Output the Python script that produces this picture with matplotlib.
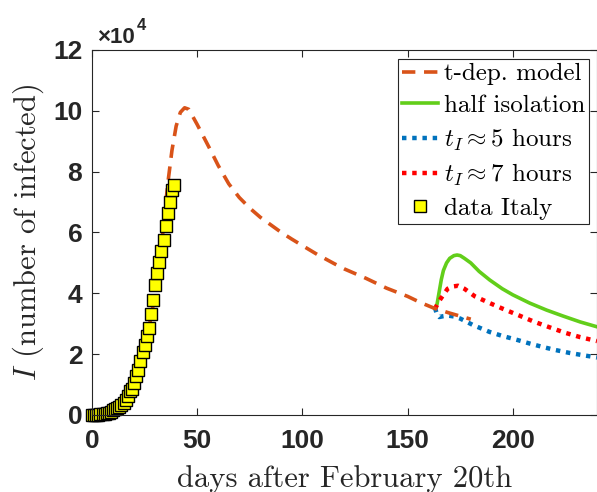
import matplotlib
matplotlib.use('Agg')
import matplotlib.pyplot as plt
import numpy as np
from matplotlib.ticker import FuncFormatter

# Italy active cases, days after Feb 20th
data_days = np.arange(0, 40)
data_cases = [3, 19, 76, 150, 221, 311, 400, 528, 821, 1049,
              1577, 1835, 2263, 2706, 3296, 3916, 5061, 6387, 7985, 8514,
              10590, 12839, 14955, 17750, 20603, 23073, 26062, 28710, 33190, 37860,
              42681, 46638, 50418, 54030, 57521, 62013, 66414, 70065, 73880, 75528]

# time-dependent model (values x1e4)
model_days = [0, 5, 10, 15, 20, 25, 28, 30, 32, 34, 36, 38, 40, 42, 44, 46, 48, 50,
              53, 56, 60, 65, 70, 75, 80, 85, 90, 95, 100, 107, 115, 120, 130, 140,
              150, 156, 163, 170, 180]
model_vals = [0.0, 0.03, 0.12, 0.38, 1.0, 2.2, 3.2, 4.0, 5.0, 6.2, 7.6, 8.7, 9.5, 9.95,
              10.1, 10.05, 9.8, 9.55, 9.15, 8.75, 8.2, 7.6, 7.15, 6.8, 6.5, 6.25, 6.0,
              5.78, 5.57, 5.28, 4.98, 4.8, 4.5, 4.17, 3.9, 3.7, 3.5, 3.35, 3.15]

half_days = [163, 164, 165, 166, 167, 168.5, 170, 172, 173.5, 175, 177, 180, 184, 189,
             195, 200, 208, 216, 224, 232, 240]
half_vals = [3.5, 3.65, 4.05, 4.45, 4.75, 5.0, 5.15, 5.24, 5.26, 5.24, 5.15, 5.0, 4.72,
             4.44, 4.15, 3.95, 3.68, 3.45, 3.25, 3.06, 2.9]

t5_days = [163, 164, 165, 167, 169, 172, 175, 181, 189, 195, 202, 208, 214, 220, 227,
           233, 240]
t5_vals = [3.52, 3.3, 3.22, 3.25, 3.27, 3.24, 3.17, 2.96, 2.73, 2.6, 2.47, 2.35, 2.24,
           2.14, 2.04, 1.97, 1.89]

t7_days = [163, 165, 167, 169, 171, 174, 177, 182, 189, 195, 202, 210, 218, 225, 232, 240]
t7_vals = [3.49, 3.75, 3.95, 4.15, 4.22, 4.25, 4.15, 3.9, 3.68, 3.5, 3.3, 3.07, 2.87,
           2.7, 2.56, 2.43]

plt.rcParams['mathtext.fontset'] = 'cm'
plt.rcParams['axes.unicode_minus'] = False

fig = plt.figure(figsize=(5.97, 4.92), dpi=100)
ax = fig.add_axes([92 / 597, 77 / 492, 505 / 597, 365 / 492])

scale = 1e4
l_half, = ax.plot(half_days, np.array(half_vals) * scale, color='#62CE1A', lw=2.6)
l_t5, = ax.plot(t5_days, np.array(t5_vals) * scale, color='#0072BD', lw=3.2,
                dashes=(1.0, 1.3), dash_capstyle='butt')
l_t7, = ax.plot(t7_days, np.array(t7_vals) * scale, color='#FF0000', lw=3.2,
                dashes=(1.0, 1.3), dash_capstyle='butt')
l_model, = ax.plot(model_days, np.array(model_vals) * scale, color='#D95319', lw=2.6,
                   dashes=(3.7, 2.4))
l_data, = ax.plot(data_days, data_cases, ls='none', marker='s', ms=8,
                  mfc='#FFFF00', mec='black', mew=1.0, clip_on=False)

ax.set_xlim(0, 240)
ax.set_ylim(0, 12e4)
ax.set_xticks([0, 50, 100, 150, 200])
ax.set_yticks(np.arange(0, 12.1, 2) * scale)
ax.yaxis.set_major_formatter(FuncFormatter(lambda v, p: f'{v / scale:.0f}'))

for s in ax.spines.values():
    s.set_color('#262626')
    s.set_linewidth(0.8)
ax.tick_params(direction='in', length=5, width=0.8, color='#262626',
               top=True, right=True, labelsize=19)
ax.tick_params(axis='x', pad=10)
ax.tick_params(axis='y', pad=7)
for lab in ax.get_xticklabels() + ax.get_yticklabels():
    lab.set_fontfamily('Liberation Sans')
    lab.set_fontweight('bold')
    lab.set_color('#262626')

ax.text(0.01, 1.018, '\u00d710', transform=ax.transAxes, fontsize=16,
        fontfamily='Liberation Sans', fontweight='bold', color='#262626',
        ha='left', va='baseline')
ax.text(0.088, 1.055, '4', transform=ax.transAxes, fontsize=12,
        fontfamily='Liberation Sans', fontweight='bold', color='#262626',
        ha='left', va='baseline')

ax.set_xlabel('days after February 20th', fontfamily='cmr10', fontsize=22,
              color='#262626', labelpad=9)
ax.set_ylabel('$I$ (number of infected)', fontfamily='cmr10', fontsize=22,
              color='#262626', labelpad=5)

leg = ax.legend([l_model, l_half, l_t5, l_t7, l_data],
                ['t-dep. model', 'half isolation', r'$t_I \approx 5$ hours',
                 r'$t_I \approx 7$ hours', 'data Italy'],
                loc='upper right', bbox_to_anchor=(589 / 597, 433 / 492),
                bbox_transform=fig.transFigure,
                prop={'family': 'cmr10', 'size': 18}, frameon=True, fancybox=False,
                edgecolor='#262626', framealpha=1, handlelength=1.45,
                handletextpad=0.25, borderpad=0.15, labelspacing=0.37, borderaxespad=0)
leg.get_frame().set_linewidth(0.8)

fig.savefig('out.png', dpi=100)
